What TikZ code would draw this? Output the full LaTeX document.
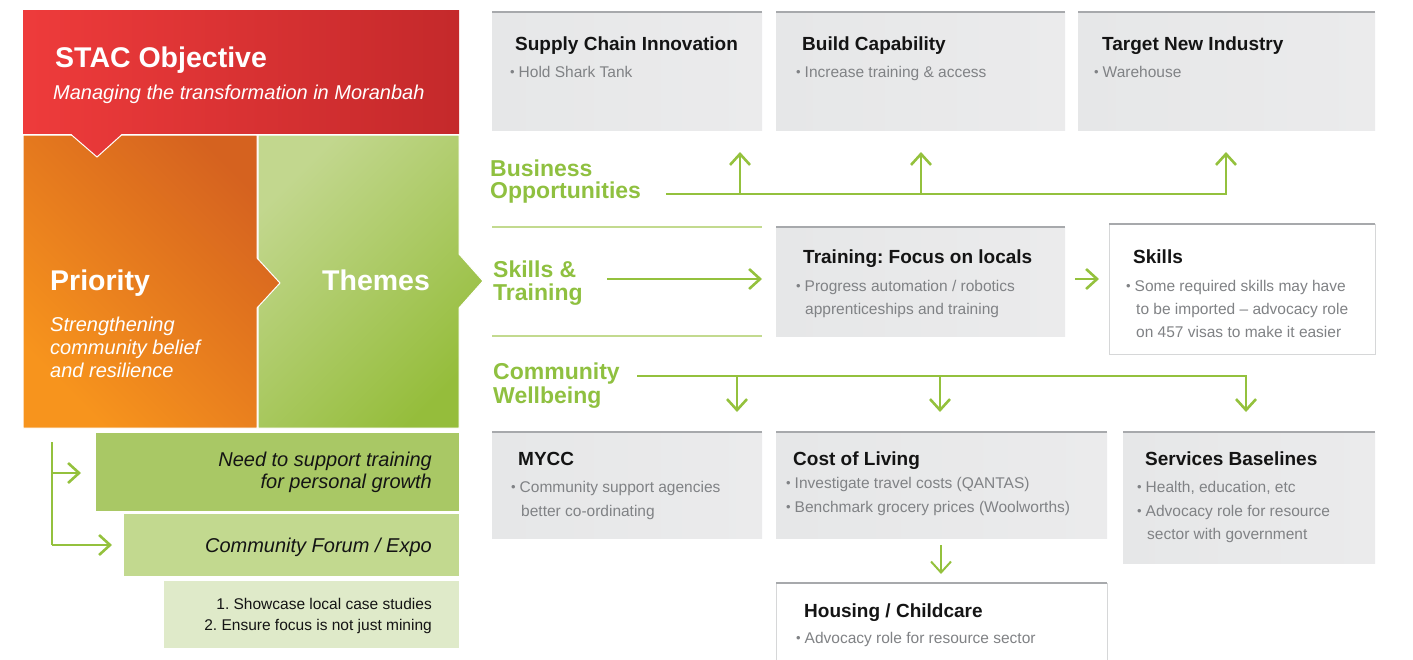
\documentclass[tikz,border=0pt]{standalone}
\usepackage{fontspec}
\setmainfont{Liberation Sans}
\usetikzlibrary{arrows.meta}
\frenchspacing

\definecolor{redL}{HTML}{EE3B3B}
\definecolor{redR}{HTML}{C4292B}
\definecolor{orDark}{HTML}{D5621F}
\definecolor{orLight}{HTML}{F7941D}
\definecolor{grLight}{HTML}{C2D78E}
\definecolor{grDark}{HTML}{95BD3B}
\definecolor{needFill}{HTML}{A9C865}
\definecolor{forumFill}{HTML}{C2D98F}
\definecolor{listFill}{HTML}{DFEAC9}
\definecolor{lineGreen}{HTML}{94C13D}
\definecolor{sepGreen}{HTML}{C3DA8F}
\definecolor{labelGreen}{HTML}{8FC040}
\definecolor{boxGrayL}{HTML}{E6E7E8}
\definecolor{boxGrayR}{HTML}{EBEBEC}
\definecolor{topGray}{HTML}{A7A9AC}
\definecolor{edgeGray}{HTML}{D6D7D8}
\definecolor{titleInk}{HTML}{141414}
\definecolor{bodyInk}{HTML}{808285}

\newcommand\fs[2]{\fontsize{#1}{#2}\selectfont}
\newcommand\bul{\makebox[8.5pt][l]{\raisebox{0.2pt}{\fs{13}{13}•}}}

% gray card: name, x1, y1, x2, y2
\newcommand\graycard[5]{%
  \node[graycard, minimum width={(#4-#2)*1pt}, minimum height={(#5-#3)*1pt}] (#1) at (#2,#3) {};
  \draw[topline] (#1.north west) -- (#1.north east);}
% white card with outline
\newcommand\whitecard[5]{%
  \node[whitecard, minimum width={(#4-#2)*1pt}, minimum height={(#5-#3)*1pt}] (#1) at (#2,#3) {};
  \draw[topline] (#1.north west) -- (#1.north east);}

\begin{document}
\begin{tikzpicture}[x=1pt,y=-1pt,
  graycard/.style={anchor=north west, inner sep=0, outer sep=0, left color=boxGrayL, right color=boxGrayR},
  whitecard/.style={anchor=north west, inner sep=0, outer sep=0, fill=white, draw=edgeGray, line width=1pt},
  topline/.style={draw=topGray, line width=2pt},
  cardtitle/.style={anchor=base west, inner sep=0, font=\fs{19}{23}\bfseries, text=titleInk},
  cardtext/.style={anchor=base west, inner sep=0, font=\fs{15.5}{23}, text=bodyInk},
  glabel/.style={anchor=base west, inner sep=0, font=\fs{23}{24}\bfseries, text=labelGreen},
  whitehead/.style={anchor=base west, inner sep=0, font=\fs{28.5}{30}\bfseries, text=white},
  whiteital/.style={anchor=base west, inner sep=0, font=\fs{20}{23}\itshape, text=white},
  noteital/.style={anchor=base east, inner sep=0, font=\fs{20}{23}\itshape, text=titleInk},
  notelist/.style={anchor=base east, inner sep=0, font=\fs{15.5}{22}, text=titleInk},
  gline/.style={draw=lineGreen, line width=2.6pt},
  garrow/.style={gline, -{Straight Barb[length=11pt,width=20pt]}},
  sep/.style={draw=sepGreen, line width=2pt},
  notebox/.style={anchor=north west, inner sep=0, outer sep=0}
]
\useasboundingbox (0,0) rectangle (1413,659);

% ---------- left column: objective, priority, themes ----------
\shade[top color=grLight, bottom color=grDark, shading angle=45, draw=white, line width=1pt]
  (258,135) -- (459,135) -- (459,254) -- (483,281) -- (459,308) -- (459,428) -- (258,428) -- cycle;
\shade[top color=orDark, bottom color=orLight, shading angle=-45, draw=white, line width=1pt]
  (23,135) -- (257,135) -- (257,258) -- (280,283) -- (257,308) -- (257,428) -- (23,428) -- cycle;
\shade[left color=redL, right color=redR]
  (23,10) -- (459,10) -- (459,134) -- (122,134) -- (97,157) -- (71,134) -- (23,134) -- cycle;
\draw[white, line width=1pt] (23,134.5) -- (71,134.5) -- (97,157) -- (122,134.5) -- (459,134.5);

\node[whitehead] (stac) at (55,67) {STAC Objective};
\node[whiteital] (stac-sub) at (53,99) {Managing the transformation in Moranbah};
\node[whitehead] (prio) at (50,290) {Priority};
\node[whiteital] (prio-1) at (50,331) {Strengthening};
\node[whiteital] (prio-2) at (50,354) {community belief};
\node[whiteital] (prio-3) at (50,377) {and resilience};
\node[whitehead] (themes) at (322,290) {Themes};

% ---------- notes under the priority ----------
\node[notebox, fill=needFill, minimum width=363pt, minimum height=78pt] (need) at (96,433) {};
\node[notebox, fill=forumFill, minimum width=335pt, minimum height=62pt] (forum) at (124,514) {};
\node[notebox, fill=listFill, minimum width=295pt, minimum height=67pt] (list) at (164,581) {};
\node[noteital] (need-1) at (432,466) {Need to support training};
\node[noteital] (need-2) at (432,488) {for personal growth};
\node[noteital] (forum-1) at (432,552) {Community Forum / Expo};
\node[notelist] (list-1) at (432,609) {1. Showcase local case studies};
\node[notelist] (list-2) at (432,630) {2. Ensure focus is not just mining};

\coordinate (lc-top) at (52,442);
\coordinate (lc-mid) at (52,473);
\coordinate (lc-bot) at (52,545);
\coordinate (lc-a) at (81,473);
\coordinate (lc-b) at (112,545);
\draw[gline] (lc-top) -- (lc-bot);
\draw[garrow] (lc-mid) -- (lc-a);
\draw[garrow] (lc-bot) -- (lc-b);

% ---------- business opportunities ----------
\graycard{sc}{492}{12}{762}{130}
\graycard{bc}{776}{12}{1065}{130}
\graycard{tn}{1078}{12}{1375}{130}
\node[cardtitle] (sc-t) at (515,50) {Supply Chain Innovation};
\node[cardtext] (sc-1) at (510,77) {\bul Hold Shark Tank};
\node[cardtitle] (bc-t) at (802,50) {Build Capability};
\node[cardtext] (bc-1) at (796,77) {\bul Increase training \& access};
\node[cardtitle] (tn-t) at (1102,50) {Target New Industry};
\node[cardtext] (tn-1) at (1094,77) {\bul Warehouse};

\node[glabel] (bo-1) at (490,176) {Business};
\node[glabel] (bo-2) at (490,198) {Opportunities};
\coordinate (bo-s) at (666,194);
\coordinate (bo-j1) at (740,194);
\coordinate (bo-j2) at (921,194);
\coordinate (bo-a1) at (740,152);
\coordinate (bo-a2) at (921,152);
\coordinate (bo-a3) at (1226,152);
\draw[garrow] (bo-s) -| (bo-a3);
\draw[garrow] (bo-j1) -- (bo-a1);
\draw[garrow] (bo-j2) -- (bo-a2);

% ---------- skills & training ----------
\coordinate (sep-1a) at (492,227);
\coordinate (sep-1b) at (762,227);
\coordinate (sep-2a) at (492,336);
\coordinate (sep-2b) at (762,336);
\draw[sep] (sep-1a) -- (sep-1b);
\draw[sep] (sep-2a) -- (sep-2b);
\node[glabel] (st-1) at (493,277) {Skills \&};
\node[glabel] (st-2) at (493,300) {Training};

\graycard{tr}{776}{227}{1065}{336}
\node[cardtitle] (tr-t) at (803,263) {Training: Focus on locals};
\node[cardtext] (tr-1) at (796,291) {\bul Progress automation / robotics};
\node[cardtext] (tr-2) at (805,314) {apprenticeships and training};

\whitecard{sk}{1109}{224}{1375}{354}
\node[cardtitle] (sk-t) at (1133,263) {Skills};
\node[cardtext] (sk-1) at (1126,291) {\bul Some required skills may have};
\node[cardtext] (sk-2) at (1136,314) {to be imported – advocacy role};
\node[cardtext] (sk-3) at (1136,337) {on 457 visas to make it easier};

\coordinate (st-s) at (607,279);
\coordinate (st-e) at (762,279);
\coordinate (tr-s) at (1075,279);
\coordinate (tr-e) at (1099,279);
\draw[garrow] (st-s) -- (st-e);
\draw[garrow] (tr-s) -- (tr-e);

% ---------- community wellbeing ----------
\node[glabel] (cw-1) at (493,379) {Community};
\node[glabel] (cw-2) at (493,403) {Wellbeing};
\coordinate (cw-s) at (637,376);
\coordinate (cw-j1) at (737,376);
\coordinate (cw-j2) at (940,376);
\coordinate (cw-a1) at (737,412);
\coordinate (cw-a2) at (940,412);
\coordinate (cw-a3) at (1246,412);
\draw[garrow] (cw-s) -| (cw-a3);
\draw[garrow] (cw-j1) -- (cw-a1);
\draw[garrow] (cw-j2) -- (cw-a2);

\graycard{my}{492}{432}{762}{538}
\node[cardtitle] (my-t) at (518,465) {MYCC};
\node[cardtext] (my-1) at (511,492) {\bul Community support agencies};
\node[cardtext] (my-2) at (521,516) {better co-ordinating};

\graycard{cl}{776}{432}{1107}{538}
\node[cardtitle] (cl-t) at (793,465) {Cost of Living};
\node[cardtext] (cl-1) at (786,488) {\bul Investigate travel costs (QANTAS)};
\node[cardtext] (cl-2) at (786,512) {\bul Benchmark grocery prices (Woolworths)};

\graycard{sb}{1123}{432}{1375}{563}
\node[cardtitle] (sb-t) at (1145,465) {Services Baselines};
\node[cardtext] (sb-1) at (1137,492) {\bul Health, education, etc};
\node[cardtext] (sb-2) at (1137,516) {\bul Advocacy role for resource};
\node[cardtext] (sb-3) at (1147,539) {sector with government};

\whitecard{hc}{776}{583}{1107}{668}
\node[cardtitle] (hc-t) at (804,617) {Housing / Childcare};
\node[cardtext] (hc-1) at (796,643) {\bul Advocacy role for resource sector};

\coordinate (cl-s) at (941,545);
\coordinate (cl-e) at (941,574);
\draw[garrow, line width=2pt] (cl-s) -- (cl-e);

\end{tikzpicture}
\end{document}
